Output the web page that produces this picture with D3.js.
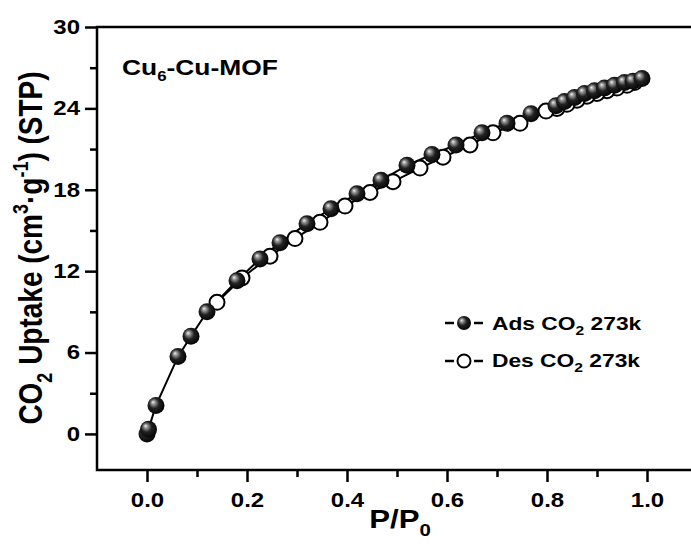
<!DOCTYPE html>
<html>
<head>
<meta charset="utf-8">
<script src="https://cdn.jsdelivr.net/npm/d3@7"></script>
<style>
  body { margin: 0; background: #fff; }
  text { font-family: "Liberation Sans", Arial, sans-serif; font-weight: bold; fill: #000; }
</style>
</head>
<body>
<script>
// adsorption branch (P/P0, uptake)
var adsP = [0.0, 0.003, 0.018, 0.062, 0.088, 0.12, 0.18, 0.226, 0.266, 0.32, 0.368, 0.42, 0.468, 0.52, 0.57, 0.618, 0.67, 0.72, 0.768, 0.818, 0.835, 0.855, 0.875, 0.895, 0.915, 0.935, 0.955, 0.972, 0.99];
var adsV = [0.0, 0.35, 2.1, 5.7, 7.2, 9.0, 11.3, 12.9, 14.1, 15.5, 16.6, 17.7, 18.7, 19.8, 20.6, 21.3, 22.2, 22.9, 23.6, 24.2, 24.5, 24.8, 25.1, 25.3, 25.5, 25.7, 25.9, 26.0, 26.2];
// desorption branch
var desP = [0.975, 0.96, 0.94, 0.92, 0.90, 0.88, 0.86, 0.84, 0.82, 0.798, 0.746, 0.692, 0.646, 0.592, 0.546, 0.492, 0.446, 0.396, 0.346, 0.296, 0.246, 0.19, 0.14];
var desV = [25.9, 25.7, 25.5, 25.3, 25.1, 24.9, 24.6, 24.3, 24.0, 23.8, 22.9, 22.2, 21.3, 20.4, 19.6, 18.6, 17.8, 16.8, 15.6, 14.4, 13.1, 11.5, 9.7];

var xTicks = [0.0, 0.2, 0.4, 0.6, 0.8, 1.0];
var xMinor = [0.1, 0.3, 0.5, 0.7, 0.9];
var yTicks = [0, 6, 12, 18, 24, 30];
var yMinor = [3, 9, 15, 21, 27];

var width = 691, height = 548;
var SX = 1.2; // Bild ist horizontal gestreckt

var svg = d3.select("body").append("svg")
    .attr("width", width)
    .attr("height", height);

var x = d3.scaleLinear().domain([-0.1, 1.1]).range([97, 697]);
var y = d3.scaleLinear().domain([-2.66, 30]).range([470, 27]);

// Kugel-Gradient für gefüllte Punkte
var defs = svg.append("defs");
var grad = defs.append("radialGradient")
    .attr("id", "ball")
    .attr("cx", "45%").attr("cy", "45%").attr("r", "60%")
    .attr("fx", "32%").attr("fy", "30%");
grad.append("stop").attr("offset", "0%").attr("stop-color", "#f4f4f4");
grad.append("stop").attr("offset", "18%").attr("stop-color", "#9a9a9a");
grad.append("stop").attr("offset", "50%").attr("stop-color", "#222");
grad.append("stop").attr("offset", "100%").attr("stop-color", "#000");

// Rahmen
svg.append("rect")
    .attr("x", x.range()[0])
    .attr("y", y.range()[1])
    .attr("width", x.range()[1] - x.range()[0])
    .attr("height", y.range()[0] - y.range()[1])
    .attr("fill", "none")
    .attr("stroke", "#000")
    .attr("stroke-width", 2.5);

// X Achse
var xAxis = svg.append("g")
    .attr("transform", "translate(0," + y.range()[0] + ")")
    .call(d3.axisBottom(x).tickValues(xTicks).tickFormat(d3.format(".1f")).tickSize(12).tickSizeOuter(0));
xAxis.append("g")
    .call(d3.axisBottom(x).tickValues(xMinor).tickFormat("").tickSize(7).tickSizeOuter(0));
xAxis.selectAll(".domain").remove();
xAxis.selectAll("line").attr("stroke-width", 2.5);
xAxis.selectAll("text")
    .attr("y", 37).attr("dy", null)
    .attr("font-size", 20)
    .attr("transform", "scale(" + SX + ",1)");

// Y Achse
var yAxis = svg.append("g")
    .attr("transform", "translate(" + x.range()[0] + ",0)")
    .call(d3.axisLeft(y).tickValues(yTicks).tickSize(12).tickSizeOuter(0));
yAxis.append("g")
    .call(d3.axisLeft(y).tickValues(yMinor).tickFormat("").tickSize(7).tickSizeOuter(0));
yAxis.selectAll(".domain").remove();
yAxis.selectAll("line").attr("stroke-width", 2.5);
yAxis.selectAll("text")
    .attr("x", -17 / SX)
    .attr("font-size", 20)
    .attr("transform", "scale(" + SX + ",1)");

// Linien
var adsData = adsP.map((p, i) => ({p: p, v: adsV[i]}));
var desData = desP.map((p, i) => ({p: p, v: desV[i]}));
var line = d3.line().x(d => x(d.p)).y(d => y(d.v));

svg.append("path").datum(desData)
    .attr("d", line).attr("fill", "none").attr("stroke", "#000").attr("stroke-width", 2);
svg.append("path").datum(adsData)
    .attr("d", line).attr("fill", "none").attr("stroke", "#000").attr("stroke-width", 2);

// Punkte
svg.selectAll(".des").data(desData).enter().append("circle")
    .attr("class", "des")
    .attr("cx", d => x(d.p)).attr("cy", d => y(d.v))
    .attr("r", 7.5)
    .attr("fill", "#fff").attr("stroke", "#000").attr("stroke-width", 2);
svg.selectAll(".ads").data(adsData).enter().append("circle")
    .attr("class", "ads")
    .attr("cx", d => x(d.p)).attr("cy", d => y(d.v))
    .attr("r", 8.5)
    .attr("fill", "url(#ball)");

// Titel im Plot
var title = svg.append("text")
    .attr("transform", "translate(122,75) scale(" + SX + ",1)")
    .attr("font-size", 22);
title.append("tspan").text("Cu");
title.append("tspan").attr("font-size", 14).attr("dy", 6).text("6");
title.append("tspan").attr("dy", -6).text("-Cu-MOF");

// X Achsen Label
var xl = svg.append("text")
    .attr("transform", "translate(400,528) scale(" + SX + ",1)")
    .attr("text-anchor", "middle")
    .attr("font-size", 26);
xl.append("tspan").text("P/P");
xl.append("tspan").attr("font-size", 17).attr("dy", 8).text("0");

// Y Achsen Label
var yl = svg.append("text")
    .attr("transform", "translate(42,248) scale(" + SX + ",1) rotate(-90)")
    .attr("text-anchor", "middle")
    .attr("font-size", 28);
yl.append("tspan").text("CO");
yl.append("tspan").attr("font-size", 18).attr("dy", 8).text("2");
yl.append("tspan").attr("dy", -8).text(" Uptake (cm");
yl.append("tspan").attr("font-size", 18).attr("dy", -12).text("3");
yl.append("tspan").attr("dy", 12).text("·g");
yl.append("tspan").attr("font-size", 18).attr("dy", -12).text("-1");
yl.append("tspan").attr("dy", 12).text(") (STP)");

// Legende
var legend = [
    {name: "Ads", type: "ads", cy: 323, base: 330},
    {name: "Des", type: "des", cy: 361, base: 367}
];
legend.forEach(function(l) {
    var g = svg.append("g");
    g.append("line").attr("x1", 445).attr("x2", 454).attr("y1", l.cy).attr("y2", l.cy)
        .attr("stroke", "#000").attr("stroke-width", 2.5);
    g.append("line").attr("x1", 474).attr("x2", 483).attr("y1", l.cy).attr("y2", l.cy)
        .attr("stroke", "#000").attr("stroke-width", 2.5);
    if (l.type == "ads") {
        g.append("circle").attr("cx", 464).attr("cy", l.cy).attr("r", 7).attr("fill", "url(#ball)");
    } else {
        g.append("circle").attr("cx", 464).attr("cy", l.cy).attr("r", 6.5)
            .attr("fill", "#fff").attr("stroke", "#000").attr("stroke-width", 2);
    }
    var t = g.append("text")
        .attr("transform", "translate(492," + l.base + ") scale(" + SX + ",1)")
        .attr("font-size", 19);
    t.append("tspan").text(l.name + " CO");
    t.append("tspan").attr("font-size", 13).attr("dy", 5).text("2");
    t.append("tspan").attr("dy", -5).text(" 273k");
});
</script>
</body>
</html>
